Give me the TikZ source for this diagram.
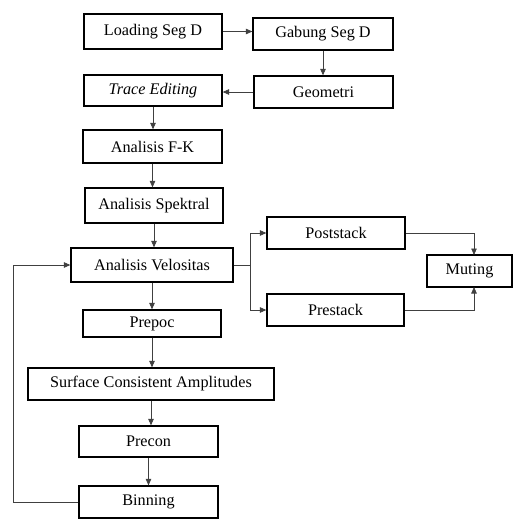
\documentclass[tikz,border=0pt]{standalone}
\usepackage{fontspec}
\setmainfont{Liberation Serif}
\usetikzlibrary{arrows.meta}
\begin{document}
\begin{tikzpicture}[x=1pt,y=-1pt,
 box/.style={draw, line width=1.3pt, inner sep=0pt, font=\fontsize{16.2}{19}\selectfont},
 conn/.style={line width=0.7pt, draw=black!75, -{Triangle[length=6.5pt,width=5.5pt]}},
 line/.style={line width=0.7pt, draw=black!75}]
\useasboundingbox (0,0) rectangle (515,519);
\node[box, minimum width=138pt, minimum height=35pt] (load) at (153,31.5) {Loading Seg D};
\node[box, minimum width=140pt, minimum height=32pt] (gab) at (323,34) {Gabung Seg D};
\node[box, minimum width=139pt, minimum height=32pt] (geo) at (323.5,92) {Geometri};
\node[box, minimum width=138pt, minimum height=31pt] (trace) at (153,90.5) {\itshape Trace Editing};
\node[box, minimum width=139pt, minimum height=33pt] (fk) at (152.5,146.5) {Analisis F-K};
\node[box, minimum width=138pt, minimum height=35pt] (spek) at (154,205.5) {Analisis Spektral};
\node[box, minimum width=162pt, minimum height=34pt] (velo) at (152,265) {Analisis Velositas};
\node[box, minimum width=138pt, minimum height=32pt] (post) at (336,233) {Poststack};
\node[box, minimum width=137pt, minimum height=32pt] (pre) at (335.5,310) {Prestack};
\node[box, minimum width=85pt, minimum height=32pt] (mut) at (469.5,271) {Muting};
\node[box, minimum width=138pt, minimum height=27pt] (prepoc) at (152,323.5) {Prepoc};
\node[box, minimum width=246pt, minimum height=32pt] (sca) at (151,384) {Surface Consistent Amplitudes};
\node[box, minimum width=139pt, minimum height=31pt] (precon) at (148.5,441.5) {Precon};
\node[box, minimum width=139pt, minimum height=32pt] (bin) at (148.5,502) {Binning};
\coordinate (br) at (250,265);
\coordinate (fb) at (13,502);
\coordinate (mt) at (474,255);
\coordinate (mb) at (474,287);
\draw[conn] (load.east) -- (load.east -| gab.west);
\draw[conn] (gab.south) -- (gab.south |- geo.north);
\draw[conn] (geo.west) -- (geo.west -| trace.east);
\draw[conn] (trace.south) -- (trace.south |- fk.north);
\draw[conn] (fk.south) -- (fk.south |- spek.north);
\draw[conn] (spek.south) -- (spek.south |- velo.north);
\draw[conn] (velo.south) -- (velo.south |- prepoc.north);
\draw[conn] (prepoc.south) -- (prepoc.south |- sca.north);
\draw[conn] (sca.south) -- (sca.south |- precon.north);
\draw[conn] (precon.south) -- (precon.south |- bin.north);
\draw[line] (velo.east) -- (br);
\draw[conn] (br) |- (post.west);
\draw[conn] (br) |- (pre.west);
\draw[conn] (post.east) -| (mt);
\draw[conn] (pre.east) -| (mb);
\draw[conn] (bin.west) -- (fb) |- (velo.west);
\end{tikzpicture}
\end{document}
